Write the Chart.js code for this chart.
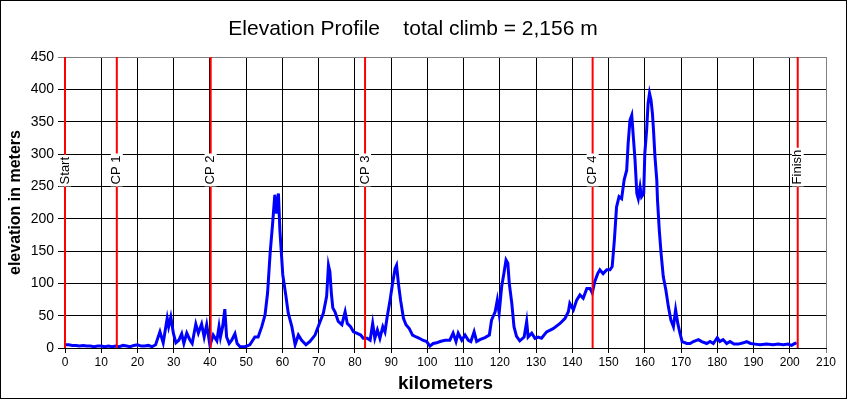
<!DOCTYPE html>
<html>
<head>
<meta charset="utf-8">
<script src="https://cdn.jsdelivr.net/npm/chart.js@4"></script>
<style>
  body { margin: 0; background: #fff; }
</style>
</head>
<body>
<canvas id="myChart" width="847" height="399"></canvas>
<script>
// elevation profile data

const km = [
  0, 1, 2, 3, 4, 5, 6, 7, 8, 9, 10, 11, 12, 13, 14, 15, 16, 17, 18, 19, 20, 21, 22, 23, 24, 25,
  26.2, 27.1, 28.2, 28.6, 29.2, 29.9, 30.6, 31.4, 32.2, 32.8, 33.6, 34.5, 35.1, 36.1, 36.8, 37.7, 38.4, 39.1, 40.0, 40.9, 41.9,
  42.5, 42.9, 43.5, 44.1, 44.6, 45.3, 46.0, 46.9, 47.5, 48.3, 49.7, 51.0, 52.4, 53.3, 54.3, 55.2, 55.9, 56.6, 57.3, 57.9,
  58.4, 58.9, 59.3, 60.1, 61.0, 61.6, 62.6, 63.5, 64.4, 65.3, 66.5, 67.6, 69.0, 70.2, 71.3, 72.2, 72.7, 73.1, 73.5,
  73.9, 74.5, 75.4, 76.4, 77.3, 77.9, 78.8, 79.6, 80.5, 81.6, 82.3, 83.4, 84.2, 84.9, 85.5, 86.2, 86.9, 87.7, 88.3, 88.9,
  89.7, 90.4, 91.1, 91.5, 92.0, 92.6, 93.4, 94.1, 95.0, 95.9, 96.9, 97.8, 98.7, 99.8, 100.7, 101.6, 102.6, 103.5, 104.9, 106.2,
  107.1, 107.9, 108.5, 109.5, 110.4, 111.3,
  112.0, 112.9, 113.6, 114.5, 115.9, 117.1, 117.7, 118.7, 119.3, 119.8, 120.5, 121.1, 121.7, 122.2, 122.6, 123.3, 123.9, 124.6, 125.5, 126.7,
  127.4, 127.8, 128.8, 129.7, 130.6, 131.5, 132.9, 134.7, 136.6, 138.0, 138.9, 139.3, 140.3, 141.2, 142.1, 143.0, 144.0, 144.9, 145.5, 146.2,
  147.0, 147.6, 148.5, 149.5, 150.4, 151.0, 151.6, 152.2, 152.9, 153.6, 154.3, 155.0, 155.4, 155.9, 156.4, 156.8, 157.3, 157.8, 158.2, 158.7,
  159.1, 159.7, 160.0, 160.5, 160.9, 161.3, 161.7, 162.1, 162.4, 162.8, 163.3, 163.5, 164.0, 164.5, 165.1, 165.8, 166.5, 167.2, 167.9, 168.5,
  169.1, 169.7, 170.3,
  171.6, 172.5, 173.4, 174.8, 175.7, 177.1, 178.0, 178.9, 180.0, 180.7, 181.6, 182.6, 183.5, 184.6, 185.8, 187.2, 188.1, 189.2, 190.4, 191.8,
  193.6, 195.4, 196.8, 198.2, 199.5, 200.5, 201.4, 201.9
];

const elev = [
  5, 5, 4, 4, 3, 4, 3, 3, 2, 3, 3, 2, 3, 2, 3, 2, 4, 3, 2, 4, 5, 3, 3, 4, 2, 5,
  25, 8, 46, 33, 48, 23, 8, 12, 22, 7, 23, 12, 7, 37, 23, 37, 17, 36, 4, 20, 11,
  33, 17, 33, 60, 17, 7, 12, 22, 7, 2, 2, 5, 17, 17, 33, 51, 85, 146, 193, 237,
  208, 239, 182, 113, 79, 54, 33, 5, 20, 12, 5, 10, 20, 38, 54, 80, 128, 118, 85,
  62, 56, 41, 36, 56, 38, 33, 25, 23, 20, 15, 15, 12, 38, 15, 28, 15, 33, 25, 48,
  74, 100, 123, 128, 100, 74, 46, 36, 30, 20, 17, 15, 12, 10, 3, 7, 8, 10, 12, 12,
  23, 10, 23, 12, 20, 12,
  10, 25, 10, 13, 16, 20, 43, 56, 74, 54, 95, 115, 136, 131, 100, 69, 33, 18, 11, 17,
  41, 17, 23, 15, 17, 15, 25, 30, 38, 46, 56, 69, 59, 74, 82, 77, 92, 92, 85, 103,
  115, 121, 115, 121, 121, 126, 167, 218, 234, 231, 260, 275, 316, 352, 360, 329, 291, 239, 231, 249,
  234, 239, 301, 337, 378, 394, 384, 363, 337, 296, 260, 229, 182, 146, 110, 90, 64, 43, 33, 59,
  38, 23, 10,
  7, 7, 10, 13, 10, 7, 10, 7, 16, 10, 13, 7, 10, 6, 6, 8, 10, 7, 6, 5,
  6, 5, 6, 5, 6, 4, 7, 8
];

// checkpoints
const cpNames = ['Start', 'CP 1', 'CP 2', 'CP 3', 'CP 4', 'Finish'];
const cpKm = [0, 14.3, 40.2, 82.8, 145.6, 202.2];

const FONT = "'Liberation Sans', Arial, sans-serif";

const cpLines = cpKm.map((k) => ({
  data: [{ x: k, y: 0 }, { x: k, y: 450 }],
  borderColor: '#FF0000',
  borderWidth: 2,
  pointRadius: 0,
  order: 1,
  clip: false,
}));

// white background + black frame round the whole picture
const frame = {
  id: 'frame',
  beforeDraw(chart) {
    const c = chart.ctx;
    c.save();
    c.fillStyle = '#fff';
    c.fillRect(0, 0, chart.width, chart.height);
    c.restore();
  },
  afterDraw(chart) {
    const c = chart.ctx;
    c.save();
    c.strokeStyle = '#000';
    c.lineWidth = 1;
    c.strokeRect(0.5, 0.5, chart.width - 1, chart.height - 1);
    c.restore();
  },
};

// vertical checkpoint names on the red lines
const cpLabels = {
  id: 'cpLabels',
  afterDatasetsDraw(chart) {
    const c = chart.ctx;
    const xs = chart.scales.x;
    const ys = chart.scales.y;
    c.save();
    c.font = '13px ' + FONT;
    c.textAlign = 'left';
    c.textBaseline = 'middle';
    cpNames.forEach((name, i) => {
      const x = xs.getPixelForValue(cpKm[i]);
      const y = ys.getPixelForValue(253);
      const w = c.measureText(name).width;
      c.save();
      c.translate(x, y);
      c.rotate(-Math.PI / 2);
      c.fillStyle = '#fff';
      c.fillRect(-2, -6, w + 4, 12);
      c.fillStyle = '#000';
      c.fillText(name, 0, 0);
      c.restore();
    });
    c.restore();
  },
};

const ctx = document.getElementById('myChart');

new Chart(ctx, {
  type: 'line',
  data: {
    datasets: [
      {
        data: km.map((k, i) => ({ x: k, y: elev[i] })),
        borderColor: '#0000FF',
        borderWidth: 3,
        pointRadius: 0,
        tension: 0,
        order: 2,
      },
      ...cpLines,
    ],
  },
  options: {
    responsive: false,
    animation: false,
    devicePixelRatio: 1,
    layout: { padding: { left: 0, right: 21, top: 0, bottom: 0 } },
    plugins: {
      legend: { display: false },
      tooltip: { enabled: false },
      title: {
        display: true,
        text: 'Elevation Profile    total climb = 2,156 m',
        color: '#000',
        font: { family: FONT, size: 21, weight: 'normal', lineHeight: 1.2 },
        padding: { top: 17, bottom: 14.8 },
      },
    },
    scales: {
      x: {
        type: 'linear',
        min: 0,
        max: 210,
        afterFit: (s) => { s.height = 51; },
        ticks: {
          stepSize: 10,
          color: '#000',
          padding: 2,
          maxRotation: 0,
          autoSkip: false,
          font: { family: FONT, size: 12 },
        },
        grid: {
          color: (c) => (c.tick && c.tick.value === 210 ? '#808080' : '#000'),
          lineWidth: 1,
          tickLength: 5,
        },
        border: { color: '#000', width: 1 },
        title: {
          display: true,
          text: 'kilometers',
          color: '#000',
          font: { family: FONT, size: 19, weight: 'bold' },
          padding: { top: 0, bottom: 4 },
        },
      },
      y: {
        min: 0,
        max: 450,
        afterFit: (s) => { s.width = 65; },
        ticks: {
          stepSize: 50,
          color: '#000',
          padding: 4,
          font: { family: FONT, size: 14 },
        },
        grid: {
          color: (c) => (c.tick && c.tick.value === 450 ? '#808080' : '#000'),
          lineWidth: 1,
          tickLength: 7,
        },
        border: { color: '#000', width: 1 },
        title: {
          display: true,
          text: 'elevation in meters',
          color: '#000',
          font: { family: FONT, size: 16, weight: 'bold' },
          padding: { top: 6, bottom: 0 },
        },
      },
    },
  },
  plugins: [frame, cpLabels],
});
</script>
</body>
</html>
